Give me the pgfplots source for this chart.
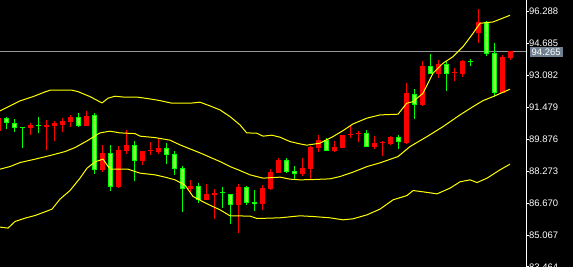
\documentclass[border=0pt]{standalone}
\usepackage{pgfplots}
\pgfplotsset{compat=1.18}
\usepackage{pgfplotstable}
\usepackage{fontspec}
\setmainfont{Liberation Sans}
\definecolor{bull}{RGB}{0,255,0}
\definecolor{bullfill}{RGB}{140,255,60}
\definecolor{bear}{RGB}{255,0,0}
\definecolor{bidbox}{RGB}{112,128,144}
\definecolor{bidline}{RGB}{150,150,150}
\definecolor{band}{RGB}{255,255,0}

% red candles: x bodytop bodybottom high low
\pgfplotstableread{
x bt bb hi lo
-1 90.951 90.299 90.951 90.299
3 90.615 90.465 90.715 90.113
5 90.615 90.500 90.851 89.360
6 90.685 90.550 90.801 89.782
7 90.816 90.615 90.951 90.264
8 91.017 90.766 91.102 90.515
10 91.052 90.565 91.303 90.565
12 89.194 88.341 89.596 88.256
14 89.345 87.487 89.546 87.452
15 89.596 89.310 90.349 89.159
17 89.295 88.808 89.295 88.607
18 89.320 89.270 89.747 89.094
19 89.445 89.245 89.947 89.159
23 87.538 87.387 87.839 87.136
25 87.136 86.850 87.638 86.850
26 87.186 87.101 87.387 85.896
29 87.487 86.599 87.638 85.193
32 87.437 86.649 87.588 86.348
33 88.241 87.387 88.391 87.337
34 88.843 88.190 88.943 88.190
37 88.441 88.155 88.943 88.055
38 89.496 88.391 89.546 87.839
39 89.847 89.461 90.098 89.260
41 89.496 89.310 89.797 89.260
42 90.098 89.461 90.098 89.461
43 90.120 90.070 90.550 89.962
44 90.170 90.120 90.299 89.762
46 89.696 89.511 90.048 89.410
47 89.740 89.690 89.812 89.059
48 90.013 89.661 90.063 89.611
50 92.206 89.712 92.708 89.661
52 93.577 91.619 93.828 91.569
54 93.647 93.175 93.848 92.974
56 93.250 93.200 93.476 92.824
57 93.813 93.175 93.878 93.025
59 95.771 95.233 96.423 94.731
62 94.029 92.206 94.129 92.191
63 94.315 93.978 94.315 93.878
}\redT

% green candles
\pgfplotstableread{
x bt bb hi lo
0 90.951 90.685 91.002 90.414
1 90.700 90.465 90.901 90.264
2 90.510 90.460 90.510 89.461
4 90.580 90.520 91.002 90.213
9 91.002 90.565 91.202 90.500
11 91.102 88.356 91.202 88.130
13 89.194 87.502 89.596 87.302
16 89.596 88.808 89.797 87.789
20 89.445 89.109 89.696 88.642
21 89.144 88.406 89.295 88.105
22 88.441 87.402 88.542 86.248
24 87.523 86.850 87.688 86.699
27 87.210 87.160 87.487 86.448
28 87.136 86.599 87.136 85.645
30 87.487 86.699 87.538 86.599
31 86.750 86.649 87.337 86.298
35 88.843 88.241 88.943 88.190
36 88.291 88.155 88.542 87.889
40 89.847 89.310 89.947 89.310
45 90.198 89.511 90.349 89.511
49 90.013 89.761 90.113 89.410
51 92.171 91.619 92.422 90.916
53 93.547 93.175 94.179 93.175
55 93.647 93.175 93.813 92.322
58 93.800 93.750 93.898 93.577
60 95.771 94.179 95.806 94.079
61 94.229 92.221 94.731 92.021
}\greenT

% Bollinger bands
\pgfplotstableread{
x y
-0.79 91.303
0.46 91.554
1.71 91.805
3.34 92.021
4.84 92.257
5.46 92.342
8.21 92.342
8.96 92.272
10.46 92.021
11.96 91.704
12.71 91.940
13.59 92.041
14.84 91.990
16.46 91.990
17.71 91.920
19.21 91.820
20.71 91.689
22.96 91.689
24.21 91.740
25.46 91.554
26.71 91.353
27.96 91.017
29.21 90.600
30.05 90.198
31.30 90.183
32.09 90.033
33.18 90.083
34.21 89.982
35.46 89.762
36.71 89.646
37.55 89.581
39.21 89.681
40.84 90.013
42.09 90.314
43.34 90.650
45.05 90.936
46.71 91.102
48.96 91.137
50.05 91.689
50.84 91.770
52.09 92.191
53.34 93.195
54.59 93.697
55.84 94.029
57.09 94.531
58.34 95.203
59.21 95.705
60.84 95.771
62.96 96.107
}\upT

\pgfplotstableread{
x y
-0.79 88.376
0.46 88.507
1.71 88.707
3.59 88.878
5.46 89.059
7.34 89.260
8.59 89.461
10.09 89.797
11.71 90.198
12.96 90.284
14.21 90.198
16.09 90.163
16.71 90.033
18.59 89.962
20.46 89.832
21.71 89.596
24.21 89.194
26.71 88.758
27.96 88.507
29.21 88.306
30.46 88.090
32.09 87.924
34.21 87.974
35.46 87.874
36.71 87.839
38.34 87.854
40.46 87.889
41.71 88.005
43.34 88.226
45.09 88.507
46.71 88.693
48.96 89.009
50.46 89.511
52.59 90.013
54.59 90.515
56.71 91.102
58.34 91.519
59.59 91.820
60.84 92.021
62.96 92.392
}\midT

\pgfplotstableread{
x y
-0.79 85.464
0.21 85.414
1.09 85.746
2.34 85.916
3.59 86.047
4.84 86.233
5.71 86.368
6.71 86.870
7.96 87.302
9.21 87.924
10.09 88.426
11.09 88.743
12.09 88.878
12.96 88.376
15.21 88.376
16.71 88.175
18.59 88.090
19.84 87.974
21.09 87.839
22.34 87.573
23.34 87.001
25.09 86.634
26.71 86.333
27.96 86.032
30.46 86.017
31.34 85.896
34.21 85.931
36.71 86.032
38.34 85.997
40.46 85.931
42.09 85.831
43.34 85.881
45.09 86.082
46.71 86.368
48.34 86.835
50.09 87.051
50.84 87.302
52.09 87.237
53.84 87.136
55.46 87.422
56.71 87.739
57.96 87.839
58.84 87.703
60.09 87.924
61.71 88.341
62.96 88.627
}\lowT

\begin{document}
\begin{tikzpicture}
\fill[black] (-5bp,-5bp) rectangle (580bp,272bp);
\begin{axis}[
  at={(0,0)}, anchor=south west,
  scale only axis, width=526bp, height=267bp,
  xmin=-0.79, xmax=64.96, ymin=83.46, ymax=96.875,
  axis x line=none, axis y line=right,
  axis line style={white, -, line width=1bp},
  ytick={83.464,85.067,86.670,88.273,89.876,91.479,93.082,94.685,96.288},
  yticklabels={83.464,85.067,86.670,88.273,89.876,91.479,93.082,94.685,96.288},
  tick align=outside, major tick length=3bp,
  tick style={white, line width=1bp},
  yticklabel style={font=\fontsize{9.5}{10}\selectfont, text=white, anchor=west, inner sep=0pt},
  /pgf/number format/assume math mode=true,
  clip=true,
]
% bid line
\addplot[bidline, line width=1bp, forget plot] coordinates {(-0.79,94.265) (64.96,94.265)};
% wicks
\addplot[draw=none, mark=none, forget plot,
  error bars/.cd, y dir=plus, y explicit, error mark=none,
  error bar style={draw=bear, line width=1bp}]
  table[x=x, y=lo, y error plus expr={\thisrow{hi}-\thisrow{lo}}] {\redT};
\addplot[draw=none, mark=none, forget plot,
  error bars/.cd, y dir=plus, y explicit, error mark=none,
  error bar style={draw=bull, line width=1bp}]
  table[x=x, y=lo, y error plus expr={\thisrow{hi}-\thisrow{lo}}] {\greenT};
% bodies
\addplot[draw=none, mark=none, forget plot,
  error bars/.cd, y dir=plus, y explicit, error mark=none,
  error bar style={draw=bear, line width=5bp}]
  table[x=x, y=bb, y error plus expr={\thisrow{bt}-\thisrow{bb}}] {\redT};
\addplot[draw=none, mark=none, forget plot,
  error bars/.cd, y dir=plus, y explicit, error mark=none,
  error bar style={draw=bull, line width=5bp}]
  table[x=x, y=bb, y error plus expr={\thisrow{bt}-\thisrow{bb}}] {\greenT};
\addplot[draw=none, mark=none, forget plot,
  error bars/.cd, y dir=plus, y explicit, error mark=none,
  error bar style={draw=bullfill, line width=3bp}]
  table[x=x, y expr={\thisrow{bb}+0.05}, y error plus expr={max(\thisrow{bt}-\thisrow{bb}-0.1,0)}] {\greenT};
% bands
\addplot[band, line width=1bp, sharp plot, mark=none, forget plot] table[x=x,y=y] {\upT};
\addplot[band, line width=1bp, sharp plot, mark=none, forget plot] table[x=x,y=y] {\midT};
\addplot[band, line width=1bp, sharp plot, mark=none, forget plot] table[x=x,y=y] {\lowT};
\coordinate (bid) at (axis cs:64.96,94.265);
\end{axis}
\node[fill=bidbox, text=white, font=\fontsize{9.5}{10}\selectfont, anchor=west,
  minimum width=33.4bp, minimum height=9.3bp, inner sep=0pt, xshift=3.3bp] at (bid) {94.265};
\pgfresetboundingbox
\path[use as bounding box] (0,0) rectangle (573bp,267bp);
\end{tikzpicture}
\end{document}
